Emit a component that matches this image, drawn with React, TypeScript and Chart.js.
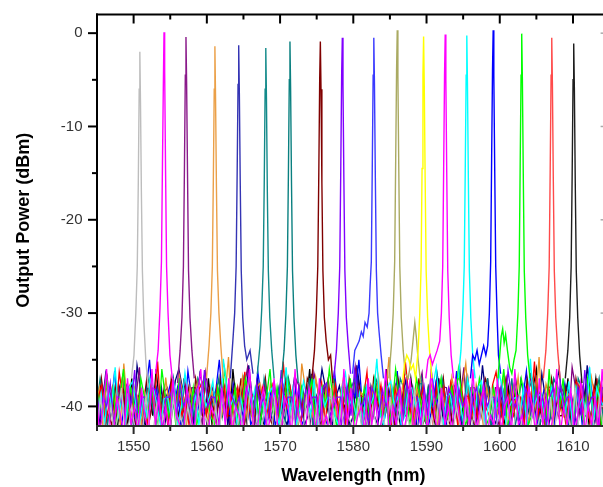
import { useEffect, useRef } from 'react';
import { Chart, registerables } from 'chart.js';

Chart.register(...registerables);

const FONT = "'Liberation Sans', Arial, Helvetica, sans-serif";

// Axis ranges and tick values
const X_MIN = 1545;
const X_MAX = 1615;
const Y_MIN = -42.1;
const Y_MAX = 2.0;
const X_LABELS = [1550, 1560, 1570, 1580, 1590, 1600, 1610];
const X_MINOR = [1545, 1555, 1565, 1575, 1585, 1595, 1605, 1615];
const Y_LABELS = [-40, -30, -20, -10, 0];
const Y_MINOR = [-35, -25, -15, -5];

type Pt = [number, number];

// ---- Laser lines (wavelength nm, power dBm) ----
const peak1550: Pt[] = [[1549.7, -37], [1550.05, -34.5], [1550.3, -30], [1550.5, -25], [1550.64, -16], [1550.76, -6], [1550.85, -2], [1550.94, -7.5], [1551.06, -17], [1551.2, -25.5], [1551.4, -31], [1551.66, -35], [1551.98, -38]];
const peak1554: Pt[] = [[1553.0, -36.5], [1553.35, -34], [1553.6, -29.5], [1553.8, -24.5], [1553.94, -14], [1554.06, -5.5], [1554.15, 0.1], [1554.24, -4], [1554.36, -14.5], [1554.5, -25], [1554.7, -30], [1554.96, -34.5], [1555.28, -37]];
const peak1557: Pt[] = [[1556.0, -37.5], [1556.35, -34], [1556.6, -30.5], [1556.8, -25], [1556.94, -14.5], [1557.06, -4.5], [1557.15, -0.4], [1557.24, -5.5], [1557.36, -15], [1557.5, -25.5], [1557.7, -30.5], [1557.96, -34], [1558.28, -37]];
const peak1561: Pt[] = [[1559.95, -37], [1560.3, -33.5], [1560.55, -30], [1560.75, -25], [1560.89, -15.5], [1561.01, -6], [1561.1, -1.4], [1561.19, -7], [1561.31, -16.5], [1561.45, -25.5], [1561.65, -30], [1561.91, -33.5], [1562.23, -37]];
const peak1564: Pt[] = [[1563.2, -37], [1563.55, -33], [1563.8, -30], [1564.0, -25], [1564.14, -15], [1564.26, -5.5], [1564.35, -1.3], [1564.44, -6.5], [1564.56, -16], [1564.7, -25.5], [1564.9, -30.5], [1565.16, -33.5], [1565.45, -35], [1565.9, -34], [1566.3, -36.5]];
const peak1568: Pt[] = [[1566.9, -36.5], [1567.25, -33.5], [1567.5, -29.5], [1567.7, -25], [1567.84, -16], [1567.96, -6], [1568.05, -1.6], [1568.14, -7], [1568.26, -17], [1568.4, -25.5], [1568.6, -30.5], [1568.86, -34], [1569.18, -37]];
const peak1571: Pt[] = [[1570.2, -37], [1570.55, -34], [1570.8, -30], [1571.0, -25], [1571.14, -15], [1571.26, -5], [1571.35, -0.9], [1571.44, -6], [1571.56, -16], [1571.7, -25.5], [1571.9, -30.5], [1572.16, -34.5], [1572.48, -37.5]];
const peak1575: Pt[] = [[1574.35, -37], [1574.7, -34], [1574.95, -30], [1575.15, -25], [1575.29, -15], [1575.41, -5], [1575.5, -0.9], [1575.59, -6], [1575.71, -16], [1575.85, -25.5], [1576.05, -30.5], [1576.3, -33], [1576.6, -35], [1576.9, -34.5], [1577.2, -37.5]];
const peak1578: Pt[] = [[1577.35, -37], [1577.7, -34], [1577.95, -30], [1578.15, -25], [1578.29, -14.5], [1578.41, -4.5], [1578.5, -0.5], [1578.59, -5.5], [1578.71, -15.5], [1578.85, -25.5], [1579.05, -30.5], [1579.31, -33.5], [1579.63, -36.5]];
const peak1582: Pt[] = [[1579.9, -36.5], [1580.2, -34], [1580.5, -33.5], [1580.8, -33], [1581.1, -32], [1581.35, -32.5], [1581.6, -31], [1581.9, -31.5], [1582.15, -30], [1582.3, -27], [1582.46, -24.5], [1582.59, -14.5], [1582.71, -4.5], [1582.8, -0.5], [1582.89, -5.5], [1583.01, -15.5], [1583.15, -25.5], [1583.32, -30], [1583.52, -32], [1583.8, -34.5], [1584.12, -37]];
const peak1586: Pt[] = [[1584.85, -37], [1585.2, -33.5], [1585.45, -30], [1585.65, -24.5], [1585.79, -13.5], [1585.91, -4], [1586.0, 0.3], [1586.09, -4.5], [1586.21, -14.5], [1586.35, -25], [1586.55, -30.5], [1586.81, -34], [1587.1, -36.5], [1587.5, -37], [1587.9, -35], [1588.15, -33], [1588.4, -31], [1588.6, -32.5], [1588.85, -35], [1589.2, -37.5]];
const peak1589: Pt[] = [[1586.7, -37.5], [1587.0, -35.5], [1587.3, -34.5], [1587.6, -35], [1587.9, -36], [1588.2, -35.5], [1588.5, -37], [1588.85, -34], [1589.08, -30], [1589.26, -25], [1589.39, -14.5], [1589.51, -4.5], [1589.6, -0.35], [1589.69, -5.5], [1589.81, -15.5], [1589.95, -25.5], [1590.15, -30.5], [1590.41, -34], [1590.73, -37]];
const peak1592: Pt[] = [[1589.9, -37], [1590.2, -35], [1590.5, -34.5], [1590.8, -35.5], [1591.1, -34.8], [1591.45, -34], [1591.8, -33], [1592.03, -30], [1592.21, -25], [1592.34, -14.5], [1592.46, -4.5], [1592.55, -0.15], [1592.64, -5], [1592.76, -15], [1592.9, -25.5], [1593.1, -30.5], [1593.36, -34.5], [1593.68, -37]];
const peak1595: Pt[] = [[1594.35, -37], [1594.7, -34], [1594.95, -30], [1595.15, -25], [1595.29, -14.5], [1595.41, -4.5], [1595.5, -0.25], [1595.59, -5.5], [1595.71, -15.5], [1595.85, -25.5], [1596.05, -30.5], [1596.31, -34.5], [1596.63, -37]];
const peak1599: Pt[] = [[1596.0, -37], [1596.3, -34.5], [1596.6, -35], [1596.9, -34], [1597.2, -35.5], [1597.5, -34.5], [1597.8, -33.5], [1598.1, -34.5], [1598.35, -33.5], [1598.58, -30], [1598.76, -24.5], [1598.89, -13.5], [1599.01, -4], [1599.1, 0.3], [1599.19, -4.5], [1599.31, -14.5], [1599.45, -25], [1599.64, -30.5], [1599.82, -34.5], [1600.12, -36.5]];
const peak1603: Pt[] = [[1599.75, -37], [1600.0, -34.5], [1600.2, -32.5], [1600.4, -31.7], [1600.6, -33.2], [1600.8, -32.3], [1601.05, -34], [1601.35, -35.8], [1601.65, -36.5], [1601.95, -35], [1602.22, -34], [1602.48, -30], [1602.66, -25], [1602.79, -14], [1602.91, -4.5], [1603.0, -0.05], [1603.09, -5], [1603.21, -15], [1603.35, -25.5], [1603.55, -30.5], [1603.81, -34.5], [1604.13, -37]];
const peak1607: Pt[] = [[1605.95, -37], [1606.3, -34], [1606.55, -30], [1606.75, -25], [1606.89, -14.5], [1607.01, -4.5], [1607.1, -0.5], [1607.19, -5.5], [1607.31, -15.5], [1607.45, -25.5], [1607.65, -30.5], [1607.91, -34], [1608.23, -37]];
const peak1610: Pt[] = [[1608.95, -37], [1609.3, -34], [1609.55, -30.5], [1609.75, -25], [1609.89, -15], [1610.01, -5], [1610.1, -1.1], [1610.19, -6], [1610.31, -16], [1610.45, -25.5], [1610.65, -30.5], [1610.91, -34.5], [1611.23, -37.5]];

const PEAKS: { color: string; pts: Pt[] }[] = [
  { color: '#bdbdbd', pts: peak1550 },
  { color: '#ff00ff', pts: peak1554 },
  { color: '#8a1a8a', pts: peak1557 },
  { color: '#eba048', pts: peak1561 },
  { color: '#3434b4', pts: peak1564 },
  { color: '#128a8a', pts: peak1568 },
  { color: '#0a8080', pts: peak1571 },
  { color: '#800000', pts: peak1575 },
  { color: '#8000ff', pts: peak1578 },
  { color: '#3a3aff', pts: peak1582 },
  { color: '#aaaa62', pts: peak1586 },
  { color: '#ffff00', pts: peak1589 },
  { color: '#ff00ff', pts: peak1592 },
  { color: '#00ffff', pts: peak1595 },
  { color: '#0000ff', pts: peak1599 },
  { color: '#00ff00', pts: peak1603 },
  { color: '#ff4a4a', pts: peak1607 },
  { color: '#1e1e1e', pts: peak1610 },
];

// ---- Noise floor of each trace (dBm), sampled evenly across 1545..1615 nm ----
const NOISE_SPAN = 71;
const noiseNavy = [-38, -42, -40, -36.5, -39, -41, -42, -38, -40, -37.8, -39, -42, -35.6, -38, -42, -40, -39, -38.4, -41, -38, -42, -39, -40, -37.2, -36, -38, -41, -39, -42, -40, -36.5, -38, -42, -41, -39, -37.8, -40, -38, -42, -39, -41, -42, -38, -40, -35.6, -39, -42, -41, -38, -38.4, -40, -42, -39, -38, -41, -42, -40, -37.2, -39, -38, -42, -41, -36.5, -40, -39, -36, -38, -41, -42, -39, -37.8, -40, -38, -42, -41, -35.6, -39, -40, -42, -38, -41, -42, -39, -38.4, -40, -38, -42, -41, -39, -37.2, -40, -38, -42, -39, -41, -42, -38, -40, -36.5, -39, -42, -41, -38, -37.8, -40, -42, -39, -41, -38, -42, -40, -35.6, -39, -38, -41, -42, -38.4, -40, -39, -42, -38, -41, -37.2, -39, -42, -40, -38, -41, -36.5, -39, -42, -40, -38, -36, -41, -37.8, -39, -40, -42, -38, -41, -35.6, -39, -42, -40, -38, -42, -41, -39, -38.4];
const noiseBlue = [-39, -37.6, -41, -38, -42, -40, -36.2, -41, -42, -39, -38, -40, -42, -39, -41, -38.3, -35, -40, -38, -41, -42, -39, -37.6, -40, -38, -42, -41, -36.2, -39, -42, -40, -38, -41, -42, -39, -38.3, -35, -40, -38, -41, -37.6, -39, -42, -40, -38, -42, -41, -36.2, -39, -42, -40, -38, -42, -41, -38.3, -39, -42, -40, -38, -41, -42, -39, -37.6, -42, -40, -38, -41, -42, -39, -36.2, -40, -42, -38, -41, -38.3, -39, -35, -40, -38, -42, -41, -37.6, -39, -42, -40, -38, -41, -36.2, -42, -39, -40, -38.3, -41, -42, -38, -39, -42, -40, -37.6, -41, -38, -42, -39, -40, -36.2, -41, -42, -38, -40, -42, -39, -38.3, -41, -38, -42, -40, -39, -37.6, -41, -42, -38, -40, -42, -39, -36.2, -41, -38, -42, -40, -38.3, -39, -41, -42, -38, -40, -37.6, -42, -39, -41, -38, -42, -40, -36.2, -39, -41, -42, -38, -40, -38.3, -39];
const noisePurple = [-36.4, -40, -38, -42, -38, -39, -41, -37.9, -40, -38, -38, -41, -39, -35.8, -42, -38, -38, -40, -39, -41, -38.5, -38, -42, -38, -40, -39, -37.2, -41, -38, -38, -40, -42, -36.4, -39, -38, -41, -38, -40, -37.9, -42, -39, -38, -41, -38, -35.8, -40, -42, -38, -39, -38, -41, -38.5, -40, -38, -42, -39, -38, -41, -37.2, -38, -40, -39, -42, -36.4, -38, -41, -38, -40, -39, -37.9, -42, -38, -38, -41, -40, -35.8, -39, -42, -38, -38, -41, -38.5, -40, -39, -38, -42, -38, -37.2, -41, -40, -38, -39, -42, -38, -36.4, -41, -38, -40, -39, -42, -37.9, -38, -41, -38, -40, -39, -35.8, -42, -38, -38, -41, -40, -38.5, -39, -42, -38, -38, -41, -37.2, -40, -39, -38, -42, -38, -41, -36.4, -40, -38, -39, -42, -38, -37.9, -41, -40, -38, -39, -42, -35.8, -38, -41, -38, -40, -39, -38.5, -42, -38, -38, -41, -40, -37.2];
const noiseWine = [-39, -41, -37, -40, -41, -42, -38, -40, -37, -41, -39, -41, -42, -38, -40, -37, -41, -39, -41, -40, -38, -42, -37, -39, -41, -41, -40, -38, -42, -37, -39, -41, -41, -38, -40, -42, -37, -39, -41, -41, -38, -40, -37, -42, -39, -41, -41, -38, -40, -37, -41, -42, -39, -41, -38, -37, -40, -41, -42, -39, -41, -37, -38, -40, -41, -42, -39, -37, -41, -38, -40, -41, -42, -37, -39, -41, -38, -41, -40, -42, -37, -39, -41, -41, -38, -40, -42, -37, -39, -41, -41, -38, -40, -37, -42, -41, -39, -41, -38, -40, -37, -41, -42, -39, -41, -38, -40, -37, -41, -42, -39, -41, -37, -38, -40, -41, -42, -39, -37, -41, -38, -40, -41, -42, -37, -39, -41, -38, -41, -40, -42, -37, -39, -41, -41, -38, -40, -42, -37, -39, -41, -41, -38, -40, -37, -42, -39, -41, -41, -38];
const noiseTeal = [-40, -37, -39, -42, -40, -38, -41, -39, -37, -40, -42, -38, -40, -41, -39, -37, -40, -42, -38, -40, -39, -41, -37, -40, -38, -42, -40, -39, -41, -37, -38, -40, -42, -40, -39, -37, -41, -38, -40, -40, -42, -39, -37, -41, -38, -40, -40, -42, -37, -39, -41, -40, -38, -40, -42, -37, -39, -40, -41, -38, -40, -37, -42, -39, -40, -41, -38, -40, -37, -42, -40, -39, -41, -38, -37, -40, -42, -40, -39, -41, -37, -38, -40, -40, -42, -39, -41, -37, -38, -40, -40, -42, -39, -37, -41, -38, -40, -40, -42, -37, -39, -41, -38, -40, -40, -42, -37, -39, -41, -40, -38, -40, -37, -42, -39, -40, -41, -38, -40, -37, -42, -40, -39, -41, -38, -37, -40, -42, -40, -39, -41, -37, -38, -40, -40, -42, -39, -41, -37, -38, -40, -40, -42, -39, -37, -41, -38, -40, -40, -42];
const noiseViolet = [-38, -41, -39, -40, -37.5, -42, -39, -39, -41, -38, -40, -36.1, -42, -39, -39, -41, -38, -38.2, -40, -42, -39, -39, -38, -41, -37.5, -40, -39, -42, -39, -38, -41, -36.1, -40, -39, -39, -42, -38, -41, -38.2, -39, -40, -39, -42, -38, -39, -41, -37.5, -40, -39, -42, -39, -38, -41, -36.1, -40, -39, -39, -42, -38, -41, -38.2, -40, -39, -39, -42, -38, -37.5, -41, -40, -39, -39, -42, -38, -41, -36.1, -39, -40, -39, -42, -38, -39, -41, -38.2, -40, -39, -42, -39, -38, -41, -37.5, -40, -39, -39, -42, -38, -41, -36.1, -39, -40, -39, -42, -38, -39, -41, -38.2, -40, -39, -42, -39, -38, -41, -37.5, -40, -39, -39, -42, -38, -41, -36.1, -39, -40, -39, -42, -38, -39, -41, -38.2, -40, -39, -42, -39, -38, -41, -37.5, -40, -39, -39, -42, -38, -41, -36.1, -40, -39, -39, -42, -38, -38.2, -41, -40, -39];
const noiseOrange = [-40, -38, -42, -37.6, -39, -41, -38, -42, -35.4, -40, -41, -38, -39, -42, -38.5, -40, -38, -41, -39, -42, -36.9, -40, -38, -41, -36.8, -39, -42, -38, -40, -37.6, -41, -39, -42, -38, -40, -38.5, -41, -39, -34.7, -42, -38, -40, -36.9, -41, -39, -42, -38, -37.5, -40, -41, -37.6, -39, -42, -38, -40, -38.5, -41, -39, -42, -35.4, -38, -40, -41, -36.9, -39, -42, -38, -40, -37.6, -41, -39, -36.8, -42, -38, -40, -41, -38.5, -39, -42, -38, -40, -36.9, -41, -39, -34.7, -42, -38, -40, -37.6, -41, -39, -42, -38, -40, -38.5, -41, -37.5, -39, -42, -38, -40, -41, -36.9, -39, -42, -38, -35.4, -40, -41, -37.6, -39, -42, -38, -40, -38.5, -41, -39, -36.8, -42, -38, -40, -36.9, -41, -39, -42, -38, -40, -34.7, -41, -37.6, -39, -42, -38, -40, -41, -38.5, -39, -42, -37.5, -38, -40, -41, -36.9, -39, -42, -38, -40, -37.6, -41, -39];
const noiseRed = [-41, -39, -37.7, -42, -40, -38, -41, -36.3, -39, -42, -38, -40, -41, -38.8, -39, -42, -38, -40, -35.2, -41, -39, -42, -37.7, -40, -38, -41, -39, -42, -38.8, -40, -38, -37.4, -41, -39, -42, -38, -40, -37.7, -41, -39, -42, -38, -40, -36.3, -41, -38.8, -39, -42, -38, -40, -41, -37.7, -39, -42, -35.2, -40, -38, -41, -39, -42, -38.8, -40, -38, -41, -39, -37.4, -42, -38, -40, -37.7, -41, -39, -42, -38, -40, -41, -38.8, -39, -36.3, -42, -38, -40, -37.7, -41, -39, -42, -38, -40, -41, -35.2, -39, -42, -38.8, -40, -38, -41, -39, -42, -37.7, -40, -38, -41, -37.4, -39, -42, -38, -40, -38.8, -41, -39, -42, -38, -40, -41, -37.7, -36.3, -39, -42, -38, -40, -41, -38.8, -39, -42, -38, -40, -35.2, -41, -39, -42, -37.7, -40, -38, -41, -39, -42, -38.8, -40, -37.4, -38, -41, -39, -42, -38, -40, -37.7, -41, -39, -42, -38];
const noiseGreen = [-42, -39, -41, -37, -40, -38, -42, -39, -36, -41, -38, -40, -42, -37, -39, -41, -38, -40, -42, -36, -39, -41, -38, -42, -37, -40, -39, -41, -38, -42, -40, -37, -39, -41, -42, -38, -40, -36, -39, -41, -38, -42, -40, -37, -39, -41, -38, -42, -40, -39, -36, -41, -38, -42, -40, -37, -39, -41, -42, -38, -40, -39, -37, -42, -41, -38, -40, -36, -39, -42, -41, -38, -40, -37, -42, -39, -41, -38, -40, -42, -37, -39, -41, -38, -42, -40, -36, -39, -41, -38, -42, -40, -37, -39, -41, -42, -38, -40, -39, -37, -42, -41, -38, -40, -36, -39, -42, -41, -38, -40, -37, -39, -42, -41, -38, -40, -39, -36, -42, -41, -38, -40, -37, -39, -42, -41, -38, -40, -39, -42, -36, -41, -38, -40, -37, -42, -39, -41, -38, -40, -42, -37, -39, -41, -38, -42, -40, -36, -39, -41];
const noiseCyan = [-39, -41, -38.6, -42, -38, -40, -35.8, -41, -39, -42, -38, -37.3, -40, -42, -39, -41, -37.1, -38, -40, -42, -39.2, -39, -41, -38, -42, -40, -36.4, -39, -41, -38.6, -42, -38, -40, -39, -37.3, -41, -42, -34.9, -38, -40, -39, -42, -39.2, -41, -38, -40, -38.2, -42, -39, -41, -38.6, -38, -40, -42, -39, -35.8, -41, -38, -42, -40, -37.3, -39, -41, -37.1, -42, -38, -40, -39, -39.2, -41, -42, -38, -36.4, -40, -39, -41, -38.6, -42, -38, -40, -39, -34.9, -41, -42, -38, -37.3, -40, -39, -42, -41, -38.2, -38, -40, -39.2, -42, -39, -41, -38, -35.8, -40, -42, -39, -38.6, -41, -38, -40, -42, -37.1, -39, -41, -38, -37.3, -42, -40, -39, -41, -36.4, -38, -42, -40, -39.2, -39, -41, -38, -42, -34.9, -40, -39, -38.6, -41, -42, -38, -40, -38.2, -39, -41, -37.3, -42, -38, -40, -39, -41, -35.8, -42, -38, -39.2, -40, -39, -41, -42];
const noiseBlack = [-41, -38, -42, -40, -37, -41, -39, -42, -38, -40, -42, -37, -41, -39, -40, -42, -38, -41, -36, -40, -42, -39, -41, -38, -40, -42, -37, -41, -39, -42, -38, -40, -41, -37, -42, -39, -40, -41, -38, -42, -36, -40, -41, -39, -42, -38, -40, -37, -41, -42, -39, -40, -38, -42, -41, -37, -40, -39, -42, -38, -41, -40, -36, -42, -39, -41, -38, -40, -42, -37, -41, -39, -40, -42, -38, -41, -37, -40, -42, -39, -41, -38, -40, -42, -36, -41, -39, -40, -42, -38, -41, -37, -40, -42, -39, -41, -38, -40, -42, -37, -41, -39, -40, -42, -38, -36, -41, -40, -42, -39, -41, -38, -40, -37, -42, -41, -39, -40, -42, -38, -41, -37, -40, -42, -39, -41, -38, -36, -42, -40, -41, -39, -42, -38, -40, -41, -37, -42, -39, -40, -41, -38, -42, -40, -37, -41, -39, -42, -38, -40];
const noiseGray = [-41, -43, -39, -42, -43, -40, -43, -41, -38, -43, -42, -40, -43, -41, -43, -39, -42, -43, -40, -43, -41, -43, -42, -39, -43, -41, -43, -40, -42, -43, -38, -43, -41, -42, -43, -40, -43, -39, -42, -43, -41, -43, -40, -43, -42, -38, -43, -41, -43, -40, -42, -43, -39, -43, -41, -42, -43, -40, -43, -41, -43, -39, -42, -43, -40, -43, -41, -43, -38, -42, -43, -40, -43, -41, -42, -43, -39, -43, -41, -43, -40, -42, -43, -41, -43, -39, -43, -42, -40, -43, -41, -43, -38, -42, -43, -40, -43, -41, -43, -39, -42, -43, -41, -43, -40, -42, -43, -39, -43, -41, -43, -40, -42, -43, -38, -43, -41, -42, -43, -40, -43, -41, -39, -43, -42, -43, -40, -43, -41, -42, -43, -39, -43, -40, -42, -43, -41, -43, -38, -42, -43, -40, -43, -41, -43, -39, -42, -43, -40, -43];
const noiseMagenta = [-38, -43, -40, -36, -42, -43, -39, -41, -43, -37, -42, -40, -43, -38, -41, -43, -36, -42, -39, -43, -40, -43, -37, -41, -42, -43, -38, -40, -43, -39, -36, -42, -43, -40, -41, -43, -38, -42, -37, -43, -40, -41, -43, -39, -36, -42, -43, -40, -38, -43, -41, -37, -42, -43, -39, -40, -43, -36, -41, -42, -43, -38, -40, -43, -37, -42, -41, -43, -39, -40, -43, -36, -42, -38, -43, -41, -40, -43, -37, -42, -39, -43, -41, -36, -43, -40, -42, -38, -43, -41, -37, -43, -40, -42, -39, -43, -36, -41, -43, -38, -42, -40, -43, -37, -41, -43, -39, -42, -36, -43, -40, -38, -43, -41, -42, -37, -43, -40, -39, -43, -36, -42, -41, -43, -38, -40, -43, -37, -42, -39, -43, -41, -36, -43, -40, -42, -38, -43, -41, -37, -43, -40, -42, -39, -43, -36, -41, -43, -38, -42];

const NOISE: { color: string; start: number; y: number[] }[] = [
  { color: '#000000', start: 1544.5, y: noiseBlack },
  { color: '#000080', start: 1544.75, y: noiseNavy },
  { color: '#800080', start: 1544.6, y: noisePurple },
  { color: '#0000ff', start: 1544.55, y: noiseBlue },
  { color: '#800000', start: 1544.65, y: noiseWine },
  { color: '#008080', start: 1544.95, y: noiseTeal },
  { color: '#e8902a', start: 1544.85, y: noiseOrange },
  { color: '#ff0000', start: 1544.7, y: noiseRed },
  { color: '#00ff00', start: 1544.8, y: noiseGreen },
  { color: '#00ffff', start: 1544.62, y: noiseCyan },
  { color: '#8000ff', start: 1544.9, y: noiseViolet },
  { color: '#c0c0c0', start: 1544.52, y: noiseGray },
  { color: '#ff00ff', start: 1544.88, y: noiseMagenta },
];

const frameTicks = {
  id: 'frameTicks',
  afterDatasetsDraw(chart: any) {
    const { ctx, chartArea: a, scales } = chart;
    const xs = scales.x;
    const ys = scales.y;
    const seg = (x1: number, y1: number, x2: number, y2: number) => {
      ctx.beginPath();
      ctx.moveTo(x1, y1);
      ctx.lineTo(x2, y2);
      ctx.stroke();
    };
    ctx.save();
    ctx.lineWidth = 2;
    ctx.strokeStyle = '#000';
    seg(a.left - 1, a.top, a.right + 1, a.top);
    seg(a.left, a.top - 1, a.left, a.bottom + 1);
    seg(a.right, a.top - 1, a.right, a.bottom + 1);
    for (const v of X_LABELS) {
      const px = xs.getPixelForValue(v);
      seg(px, a.top, px, a.top + 9);
    }
    for (const v of X_MINOR) {
      const px = xs.getPixelForValue(v);
      seg(px, a.top, px, a.top + 5);
    }
    for (const v of Y_LABELS) {
      const py = ys.getPixelForValue(v);
      seg(a.left - 9, py, a.left, py);
    }
    for (const v of Y_MINOR) {
      const py = ys.getPixelForValue(v);
      seg(a.left - 5, py, a.left, py);
    }
    ctx.strokeStyle = '#aaa';
    ctx.lineWidth = 1.5;
    for (const v of Y_LABELS) {
      const py = ys.getPixelForValue(v);
      seg(a.right - 9, py, a.right, py);
    }
    ctx.lineWidth = 2;
    ctx.strokeStyle = '#2a2a2a';
    seg(a.left - 1, a.bottom, a.right + 1, a.bottom);
    for (const v of X_LABELS) {
      const px = xs.getPixelForValue(v);
      seg(px, a.bottom, px, a.bottom + 8);
    }
    for (const v of X_MINOR) {
      const px = xs.getPixelForValue(v);
      seg(px, a.bottom, px, a.bottom + 5);
    }
    ctx.restore();
  },
};

export default function App() {
  const ref = useRef<HTMLCanvasElement | null>(null);

  useEffect(() => {
    if (!ref.current) return;
    const datasets: any[] = [
      ...NOISE.map((n) => ({
        data: n.y.map((v, j) => ({ x: n.start + (j * NOISE_SPAN) / (n.y.length - 1), y: v })),
        borderColor: n.color,
        borderWidth: 1.3,
        pointRadius: 0,
      })),
      ...PEAKS.map((p) => ({
        data: p.pts.map(([x, y]) => ({ x, y })),
        borderColor: p.color,
        borderWidth: 1.4,
        pointRadius: 0,
      })),
    ];
    datasets.forEach((d, i) => {
      d.order = datasets.length - i;
      d.tension = 0;
    });

    const chart = new Chart(ref.current, {
      type: 'line',
      data: { datasets },
      plugins: [frameTicks],
      options: {
        animation: false,
        responsive: false,
        events: [],
        layout: { padding: { left: 0, top: 10.3, right: 10.4, bottom: 0 } },
        plugins: { legend: { display: false }, tooltip: { enabled: false } },
        scales: {
          x: {
            type: 'linear',
            min: X_MIN,
            max: X_MAX,
            afterBuildTicks: (s: any) => {
              s.ticks = X_LABELS.map((v) => ({ value: v }));
            },
            afterFit: (s: any) => {
              s.height = 61;
            },
            grid: { display: true, drawOnChartArea: false, color: 'rgba(0,0,0,0)', tickColor: 'rgba(0,0,0,0)', tickLength: 8 },
            border: { display: false },
            ticks: {
              autoSkip: false,
              maxRotation: 0,
              padding: 4,
              color: '#333',
              font: { family: FONT, size: 15 },
              callback: (v: any) => String(v),
            },
            title: {
              display: true,
              text: 'Wavelength (nm)',
              color: '#000',
              font: { family: FONT, size: 18, weight: 'bold' },
              padding: { top: 0, bottom: 0 },
            },
          },
          y: {
            type: 'linear',
            min: Y_MIN,
            max: Y_MAX,
            afterBuildTicks: (s: any) => {
              s.ticks = Y_LABELS.map((v) => ({ value: v }));
            },
            afterFit: (s: any) => {
              s.width = 97;
            },
            grid: { display: true, drawOnChartArea: false, color: 'rgba(0,0,0,0)', tickColor: 'rgba(0,0,0,0)', tickLength: 9 },
            border: { display: false },
            ticks: {
              padding: 5.5,
              color: '#333',
              font: { family: FONT, size: 15 },
              callback: (v: any) => String(v),
            },
            title: {
              display: true,
              text: 'Output Power (dBm)',
              color: '#000',
              font: { family: FONT, size: 18, weight: 'bold' },
              padding: { top: 13, bottom: 0 },
            },
          },
        },
      } as any,
    });
    return () => chart.destroy();
  }, []);

  return (
    <div style={{ position: 'absolute', left: 0, top: 0, width: 603, height: 487, overflow: 'hidden', background: '#fff' }}>
      <canvas ref={ref} width={620} height={487} style={{ display: 'block', width: 620, height: 487 }} />
    </div>
  );
}
